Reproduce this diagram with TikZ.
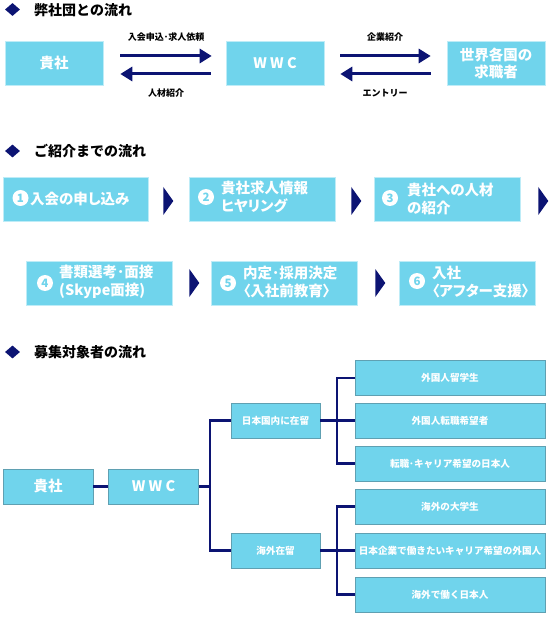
\documentclass[tikz,border=0pt]{standalone}
\usepackage{fontspec}
\newfontfamily\jp{Noto Sans CJK JP}
\newfontfamily\jpp{Noto Sans CJK JP}[RawFeature=+palt]
\usetikzlibrary{arrows.meta,shapes.geometric,calc}
\definecolor{cy}{RGB}{112,212,236}
\definecolor{cyedge}{RGB}{190,236,247}
\definecolor{nv}{RGB}{12,20,115}
\definecolor{bedge}{RGB}{95,160,178}
\begin{document}
\begin{tikzpicture}[x=1pt,y=-1pt,
  bigbox/.style={fill=cy, draw=cyedge, line width=0.6pt, minimum width=98pt, minimum height=44pt, inner sep=0pt, text=white, align=center, font=\jp\bfseries\fontsize{14.5}{17}\selectfont},
  stepbox/.style={fill=cy, draw=cyedge, line width=0.6pt, minimum height=44pt, inner sep=0pt},
  steptext/.style={anchor=west, inner sep=0pt, text=white, align=left, font=\jpp\bfseries\fontsize{14.5}{18}\selectfont},
  num/.style={circle, fill=white, minimum size=16pt, inner sep=0pt, text=cy, font=\jp\bfseries\fontsize{11.5}{11.5}\selectfont},
  lbl/.style={inner sep=0pt, text=black, font=\jp\bfseries\fontsize{9}{10}\selectfont},
  head/.style={anchor=west, inner sep=0pt, text=black, font=\jp\bfseries\fontsize{14}{16}\selectfont},
  dia/.style={diamond, fill=nv, minimum width=15pt, minimum height=13pt, inner sep=0pt},
  arr/.style={draw=nv, line width=3pt, -{Triangle[length=12pt,width=14pt]}},
  tbox/.style={fill=cy, draw=bedge, line width=0.8pt, minimum height=35pt, inner sep=0pt, text=white, font=\jp\bfseries\fontsize{9.6}{11}\selectfont},
  tbig/.style={tbox, minimum width=90pt, font=\jp\bfseries\fontsize{14.5}{16}\selectfont},
  ln/.style={draw=nv, line width=2.6pt}
]
\useasboundingbox (0,0) rectangle (551,617);

% ---------- Section 1 ----------
\node[dia] (d1) at (12.5,9.5) {};
\node[head] (h1) at (34,10) {弊社団との流れ};

\node[bigbox] (a) at (54,63) {貴社};
\node[bigbox] (w) at (275,63) {W W C};
\node[bigbox] (g) at (496,63) {世界各国の\\求職者};

\draw[arr, shorten <=17pt, shorten >=14pt] ([yshift=7pt]a.east) -- ([yshift=7pt]w.west);
\draw[arr, shorten <=15pt, shorten >=17pt] ([yshift=-11pt]w.west) -- ([yshift=-11pt]a.east);
\draw[arr, shorten <=16pt, shorten >=16pt] ([yshift=7pt]w.east) -- ([yshift=7pt]g.west);
\draw[arr, shorten <=16pt, shorten >=16pt] ([yshift=-11pt]g.west) -- ([yshift=-11pt]w.east);

\node[lbl] (l1) at (166,37) {入会申込･求人依頼};
\node[lbl] (l2) at (166,93) {人材紹介};
\node[lbl] (l3) at (385,37) {企業紹介};
\node[lbl] (l4) at (385,93) {エントリー};

% ---------- Section 2 ----------
\node[dia] (d2) at (12.5,151) {};
\node[head] (h2) at (34,151.5) {ご紹介までの流れ};

\node[stepbox, minimum width=145pt] (s1) at (75.5,199) {};
\node[stepbox, minimum width=146pt] (s2) at (262,199) {};
\node[stepbox, minimum width=146pt] (s3) at (447,199) {};
\node[stepbox, minimum width=146pt] (s4) at (99,283) {};
\node[stepbox, minimum width=146pt] (s5) at (284,283) {};
\node[stepbox, minimum width=136pt] (s6) at (467,283) {};

\node[num] (n1) at (20.5,198) {1};
\node[steptext] (t1) at (30,198.5) {入会の申し込み};
\node[num] (n2) at (206,197) {2};
\node[steptext] (t2) at (221,197) {貴社求人情報\\ヒヤリング};
\node[num] (n3) at (390,198) {3};
\node[steptext] (t3) at (407,199) {貴社への人材\\の紹介};
\node[num] (n4) at (45,283) {4};
\node[steptext] (t4) at (59,282) {書類選考･面接\\(Skype面接)};
\node[num] (n5) at (228,283) {5};
\node[steptext] (t5) at (243,282) {内定･採用決定\\〈入社前教育〉};
\node[num] (n6) at (417,281) {6};
\node[steptext] (t6) at (432,282) {入社\\〈アフター支援〉};

\foreach \b/\d/\o in {s1/15/2, s2/16/2, s3/18/2, s4/17/0, s5/18/0}{
  \fill[nv] ($(\b.east)+(\d,-14+\o)$) -- ++(10,14) -- ++(-10,14) -- cycle;
}

% ---------- Section 3 ----------
\node[dia] (d3) at (12.5,352) {};
\node[head] (h3) at (34,352.5) {募集対象者の流れ};

\node[tbig] (k) at (48,486.5) {貴社};
\node[tbig] (w3) at (153.5,486.5) {W W C};
\node[tbox, minimum width=89pt] (j) at (275.5,420.5) {日本国内に在留};
\node[tbox, minimum width=89pt] (o) at (275.5,550.5) {海外在留};

\node[tbox, minimum width=190pt] (r1) at (450,378) {外国人留学生};
\node[tbox, minimum width=190pt] (r2) at (450,420.5) {外国人転職希望者};
\node[tbox, minimum width=190pt] (r3) at (450,463.5) {転職･キャリア希望の日本人};
\node[tbox, minimum width=190pt] (r4) at (450,506.5) {海外の大学生};
\node[tbox, minimum width=190pt] (r5) at (450,550.5) {日本企業で働きたいキャリア希望の外国人};
\node[tbox, minimum width=190pt] (r6) at (450,594.5) {海外で働く日本人};

\coordinate (sp) at (210,486.5);
\coordinate (b1) at (337,420.5);
\coordinate (b2) at (337,550.5);

\draw[ln] (k.east) -- (w3.west);
\draw[ln] (w3.east) -- (sp);
\draw[ln] (j.west) -| (sp) |- (o.west);
\draw[ln] (j.east) -- (b1) -- (r2.west);
\draw[ln] (r1.west) -| (b1) |- (r3.west);
\draw[ln] (o.east) -- (b2) -- (r5.west);
\draw[ln] (r4.west) -| (b2) |- (r6.west);
\end{tikzpicture}
\end{document}
